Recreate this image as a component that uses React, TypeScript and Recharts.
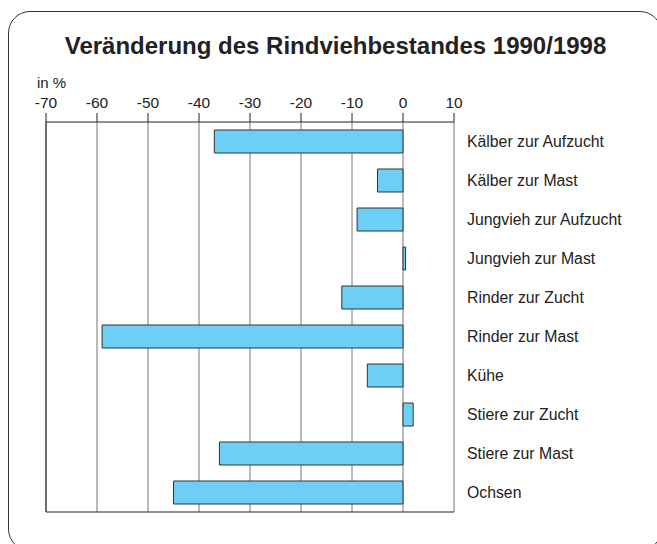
import React from 'react';
import {
  BarChart,
  Bar,
  XAxis,
  YAxis,
  CartesianGrid,
  ReferenceLine
} from 'recharts';

const categories = [
  'Kälber zur Aufzucht',
  'Kälber zur Mast',
  'Jungvieh zur Aufzucht',
  'Jungvieh zur Mast',
  'Rinder zur Zucht',
  'Rinder zur Mast',
  'Kühe',
  'Stiere zur Zucht',
  'Stiere zur Mast',
  'Ochsen',
];

const changes = [-37, -5, -9, 0.5, -12, -59, -7, 2, -36, -45];

const xTicks = [-70, -60, -50, -40, -30, -20, -10, 0, 10];

const data = categories.map((name, i) => ({ name, value: changes[i] }));

const font = '"Liberation Sans", Arial, sans-serif';

const App: React.FC = () => {
  return (
    <div
      style={{
        position: 'absolute',
        left: 0,
        top: 0,
        width: 657,
        height: 544,
        overflow: 'hidden',
        background: '#fff',
        fontFamily: font,
      }}
    >
      {/* rounded frame, runs slightly off the right and bottom edge */}
      <div
        style={{
          position: 'absolute',
          left: 8,
          top: 11,
          width: 652,
          height: 538,
          border: '1.5px solid #333',
          borderRadius: 22,
        }}
      />
      <div
        style={{
          position: 'absolute',
          left: 0,
          top: 32,
          width: 671,
          textAlign: 'center',
          fontSize: 24,
          fontWeight: 'bold',
          color: '#222',
        }}
      >
        Veränderung des Rindviehbestandes 1990/1998
      </div>
      <div
        style={{ position: 'absolute', left: 37, top: 74, fontSize: 15, color: '#222' }}
      >
        in %
      </div>
      <div style={{ position: 'absolute', left: 0, top: 0 }}>
        <BarChart
          width={657}
          height={544}
          data={data}
          layout="vertical"
          margin={{ top: 80, right: 13, bottom: 31, left: 46 }}
          barSize={23}
        >
          <CartesianGrid vertical horizontal={false} stroke="#777" />
          <XAxis
            type="number"
            orientation="top"
            domain={[-70, 10]}
            ticks={xTicks}
            height={42}
            tickSize={9}
            tickMargin={5}
            axisLine={{ stroke: '#222' }}
            tickLine={{ stroke: '#222' }}
            tick={{ fill: '#222', fontSize: 15.5, fontFamily: font }}
            interval={0}
          />
          <XAxis
            xAxisId="b"
            type="number"
            orientation="bottom"
            domain={[-70, 10]}
            height={1}
            tick={false}
            tickLine={false}
            axisLine={{ stroke: '#222' }}
          />
          <YAxis
            type="category"
            dataKey="name"
            orientation="right"
            width={190}
            axisLine={false}
            tickLine={false}
            tickSize={6}
            tickMargin={7}
            interval={0}
            tick={{ fill: '#222', fontSize: 15.8, fontFamily: font, textAnchor: 'start' }}
          />
          <ReferenceLine x={-70} stroke="#222" />
          <Bar
            dataKey="value"
            fill="#6dcff6"
            stroke="#333"
            strokeWidth={1}
            isAnimationActive={false}
          />
        </BarChart>
      </div>
    </div>
  );
};

export default App;
